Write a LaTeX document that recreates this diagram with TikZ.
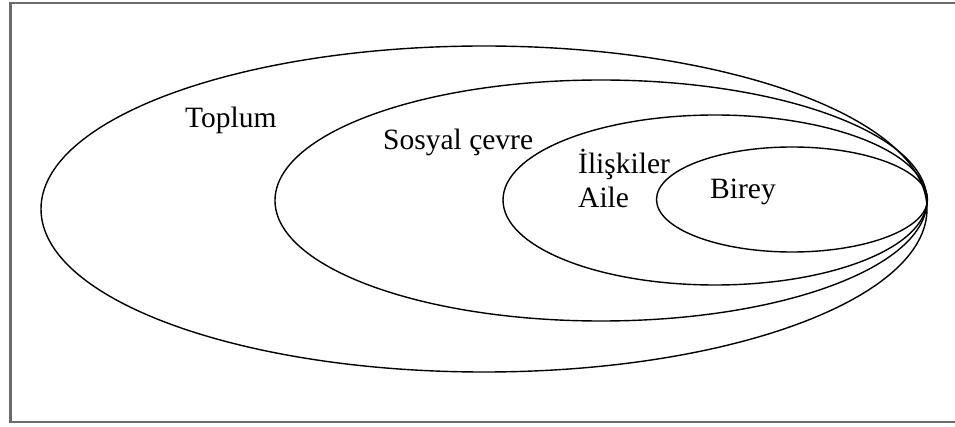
\documentclass[tikz,border=0pt]{standalone}
\usepackage{fontspec}
\setmainfont{Liberation Serif}
\usetikzlibrary{shapes.geometric}
\begin{document}
\begin{tikzpicture}[x=1pt,y=-1pt]
\tikzset{Ring/.style = {shape = ellipse, draw, line width = 1.4pt, inner sep = 0pt},
  Label/.style = {anchor = base west, inner sep = 0pt, font = \fontsize{29.5}{33}\selectfont}}
\useasboundingbox (0,0) rectangle (955,427);
\draw[gray!85!black, line width = 2.5pt] (956,3) -- (10.5,3) -- (10.5,422) -- (956,422);
\node[Ring, minimum width = 886pt, minimum height = 326pt] (toplum) at (484,209) {};
\node[Ring, minimum width = 652pt, minimum height = 241pt] (cevre) at (601,200.5) {};
\node[Ring, minimum width = 424pt, minimum height = 170pt] (iliski) at (715,200) {};
\node[Ring, minimum width = 271pt, minimum height = 105pt] (birey) at (792,199.5) {};
\node[Label] (ltoplum) at (185,128) {Toplum};
\node[Label] (lcevre) at (383,150) {Sosyal çevre};
\node[Label] (liliski) at (578,174) {İlişkiler};
\node[Label] (laile) at (578,208) {Aile};
\node[Label] (lbirey) at (710,199) {Birey};
\end{tikzpicture}
\end{document}
